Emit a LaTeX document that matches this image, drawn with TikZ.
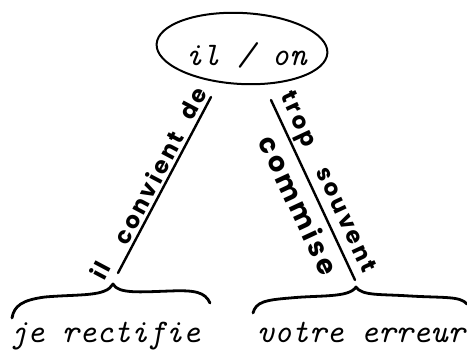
\documentclass[tikz,border=0pt]{standalone}
\usepackage{fontspec}
\newfontfamily\hand[LetterSpace=12]{Poppins}
\newfontfamily\handc[LetterSpace=12]{Poppins}
\usetikzlibrary{calc,shapes.geometric}
\begin{document}
\begin{tikzpicture}[x=1pt,y=-1pt, line cap=round, line join=round,
  stroke/.style={line width=2.4pt},
  tw/.style={font=\fontsize{33}{33}\selectfont\ttfamily\itshape, inner sep=0pt, anchor=base},
  lbl/.style={font=\fontsize{23}{23}\selectfont\hand\bfseries, inner sep=0pt},
  lblb/.style={font=\fontsize{27}{27}\selectfont\handc\bfseries, inner sep=0pt}]
\useasboundingbox (0,0) rectangle (467,350);

\node[draw, line width=2pt, ellipse, minimum width=171pt, minimum height=71pt, rotate=-3] (oval) at (242,48.5) {};
\node[tw] (top) at (246,66) {il / on};

\coordinate (L1) at (118,273);
\coordinate (L2) at (211,97);
\coordinate (R1) at (271,100);
\coordinate (R2) at (355,280);
\coordinate (BL) at (113,284);
\coordinate (BR) at (356,287);

\draw[stroke] (L1) -- (L2);
\draw[stroke] (R1) -- (R2);

\node[lbl, rotate=62.1] (il) at ($(L1)!-0.03!(L2)!17pt!90:(L2)$) {il};
\node[lbl, rotate=62.1] (conv) at ($(L1)!0.45!(L2)!13pt!90:(L2)$) {convient};
\node[lbl, rotate=62.1] (de) at ($(L1)!0.93!(L2)!13pt!90:(L2)$) {de};

\node[lbl, rotate=-65] (trop) at ($(R1)!0.146!(R2)!15pt!90:(R2)$) {trop};
\node[lbl, rotate=-65] (souv) at ($(R1)!0.707!(R2)!18pt!90:(R2)$) {souvent};
\node[lblb, rotate=-65] (comm) at ($(R1)!0.54!(R2)!19pt!-90:(R2)$) {commise};

\draw[stroke, line width=2.8pt] (12,318) .. controls (14,306) and (22,300) .. (45,297)
  .. controls (80,294) and (106,297) .. (BL)
  .. controls (118,294) and (140,292) .. (170,291)
  .. controls (195,290) and (205,292) .. (210,303);
\draw[stroke, line width=2.8pt] (253,313) .. controls (256,302) and (265,300) .. (290,298)
  .. controls (320,295) and (349,298) .. (BR)
  .. controls (362,296) and (380,294) .. (410,296)
  .. controls (445,298) and (460,296) .. (467,304);

\node[tw] (je) at (105,343) {je rectifie};
\node[tw] (vo) at (361,343) {votre erreur};
\end{tikzpicture}
\end{document}
